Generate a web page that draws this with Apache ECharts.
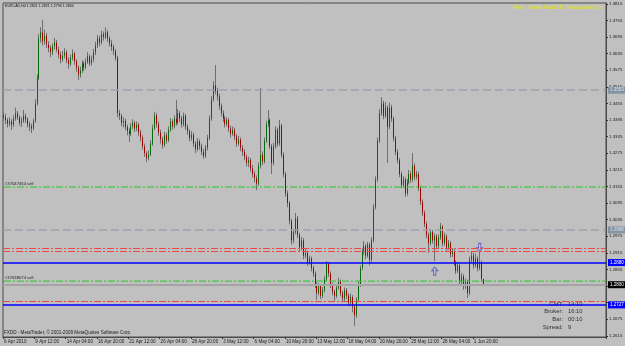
<!DOCTYPE html>
<html><head><meta charset="utf-8">
<script src="https://cdn.jsdelivr.net/npm/echarts@6/dist/echarts.min.js"></script>
<style>html,body{margin:0;padding:0;background:#c0c0c0}#c{width:625px;height:346px}</style>
</head><body><div id="c"></div>
<script>
const headerText = 'EURCAD,H4 1.2821 1.2821 1.2796 1.2800';
const alertText = 'Alerts:  Emails Alerts ON.  Popup Alerts ON.';
const copyrightText = 'FXDD - MetaTrader, \u00a9 2001-2009 MetaQuotes Software Corp.';
const tickLabels = ['6 Apr 2010','9 Apr 12:00','14 Apr 04:00','16 Apr 20:00','21 Apr 12:00','26 Apr 04:00','28 Apr 20:00','3 May 12:00','6 May 04:00','10 May 20:00','13 May 12:00','18 May 04:00','20 May 20:00','25 May 12:00','28 May 04:00','1 Jun 20:00'];
const yTicks = [1.2615,1.2675,1.2735,1.2795,1.2855,1.2915,1.2975,1.3035,1.3095,1.3155,1.3215,1.3275,1.3335,1.3395,1.3455,1.3515,1.3575,1.3635,1.3695,1.3755,1.3815];
// [open, close, low, high]
const candles = [
[1.3412,1.3405,1.3392,1.3425],[1.3405,1.3395,1.3380,1.3418],[1.3395,1.3382,1.3368,1.3402],[1.3382,1.3390,1.3372,1.3405],
[1.3390,1.3378,1.3360,1.3398],[1.3378,1.3400,1.3370,1.3412],[1.3400,1.3420,1.3392,1.3440],[1.3420,1.3405,1.3395,1.3428],
[1.3405,1.3385,1.3375,1.3412],[1.3385,1.3392,1.3370,1.3405],[1.3392,1.3410,1.3385,1.3432],[1.3410,1.3398,1.3385,1.3418],
[1.3398,1.3380,1.3368,1.3405],[1.3380,1.3372,1.3355,1.3390],[1.3372,1.3365,1.3348,1.3382],[1.3365,1.3392,1.3358,1.3400],
[1.3392,1.3455,1.3385,1.3470],[1.3455,1.3545,1.3448,1.3560],[1.3545,1.3690,1.3540,1.3705],[1.3690,1.3712,1.3675,1.3730],
[1.3712,1.3680,1.3665,1.3757],[1.3680,1.3700,1.3668,1.3722],[1.3700,1.3668,1.3655,1.3710],[1.3668,1.3655,1.3640,1.3680],
[1.3655,1.3640,1.3622,1.3665],[1.3640,1.3662,1.3630,1.3672],[1.3662,1.3675,1.3650,1.3692],[1.3675,1.3650,1.3640,1.3685],
[1.3650,1.3632,1.3618,1.3660],[1.3632,1.3615,1.3600,1.3642],[1.3615,1.3628,1.3605,1.3645],[1.3628,1.3640,1.3618,1.3655],
[1.3640,1.3612,1.3600,1.3648],[1.3612,1.3598,1.3580,1.3622],[1.3598,1.3620,1.3590,1.3632],[1.3620,1.3635,1.3610,1.3650],
[1.3635,1.3608,1.3595,1.3642],[1.3608,1.3585,1.3570,1.3615],[1.3585,1.3560,1.3540,1.3592],[1.3560,1.3575,1.3548,1.3588],
[1.3575,1.3600,1.3565,1.3610],[1.3600,1.3585,1.3572,1.3608],[1.3585,1.3605,1.3578,1.3618],[1.3605,1.3625,1.3598,1.3640],
[1.3625,1.3600,1.3590,1.3632],[1.3600,1.3615,1.3592,1.3628],[1.3615,1.3640,1.3605,1.3652],[1.3640,1.3665,1.3630,1.3678],
[1.3665,1.3690,1.3655,1.3702],[1.3690,1.3675,1.3662,1.3700],[1.3675,1.3705,1.3668,1.3718],[1.3705,1.3695,1.3682,1.3715],
[1.3695,1.3712,1.3688,1.3730],[1.3712,1.3690,1.3678,1.3720],[1.3690,1.3672,1.3660,1.3698],[1.3672,1.3660,1.3645,1.3685],
[1.3660,1.3645,1.3630,1.3668],[1.3645,1.3620,1.3610,1.3652],[1.3620,1.3420,1.3405,1.3628],[1.3420,1.3410,1.3395,1.3432],
[1.3410,1.3385,1.3372,1.3418],[1.3385,1.3392,1.3368,1.3405],[1.3392,1.3370,1.3358,1.3400],[1.3370,1.3355,1.3340,1.3378],
[1.3355,1.3345,1.3316,1.3365],[1.3345,1.3372,1.3338,1.3385],[1.3372,1.3385,1.3362,1.3398],[1.3385,1.3365,1.3352,1.3392],
[1.3365,1.3378,1.3355,1.3390],[1.3378,1.3350,1.3338,1.3385],[1.3350,1.3332,1.3318,1.3360],[1.3332,1.3300,1.3288,1.3340],
[1.3300,1.3275,1.3262,1.3310],[1.3275,1.3258,1.3243,1.3282],[1.3258,1.3270,1.3250,1.3285],[1.3270,1.3310,1.3265,1.3322],
[1.3310,1.3365,1.3302,1.3378],[1.3365,1.3412,1.3358,1.3425],[1.3412,1.3380,1.3368,1.3420],[1.3380,1.3350,1.3338,1.3390],
[1.3350,1.3325,1.3310,1.3360],[1.3325,1.3305,1.3292,1.3335],[1.3305,1.3340,1.3298,1.3352],[1.3340,1.3322,1.3310,1.3350],
[1.3322,1.3360,1.3315,1.3372],[1.3360,1.3390,1.3352,1.3402],[1.3390,1.3372,1.3360,1.3398],[1.3372,1.3400,1.3365,1.3412],
[1.3400,1.3385,1.3375,1.3467],[1.3385,1.3420,1.3378,1.3435],[1.3420,1.3400,1.3388,1.3428],[1.3400,1.3380,1.3368,1.3410],
[1.3380,1.3410,1.3372,1.3422],[1.3410,1.3370,1.3360,1.3418],[1.3370,1.3355,1.3342,1.3380],[1.3355,1.3330,1.3318,1.3362],
[1.3330,1.3342,1.3320,1.3355],[1.3342,1.3310,1.3298,1.3350],[1.3310,1.3290,1.3276,1.3318],[1.3290,1.3318,1.3282,1.3330],
[1.3318,1.3300,1.3288,1.3325],[1.3300,1.3280,1.3268,1.3310],[1.3280,1.3265,1.3255,1.3290],[1.3265,1.3295,1.3258,1.3305],
[1.3295,1.3330,1.3285,1.3342],[1.3330,1.3400,1.3322,1.3412],[1.3400,1.3470,1.3392,1.3482],[1.3470,1.3520,1.3462,1.3535],
[1.3520,1.3500,1.3488,1.3594],[1.3500,1.3480,1.3465,1.3512],[1.3480,1.3445,1.3432,1.3490],[1.3445,1.3420,1.3408,1.3455],
[1.3420,1.3400,1.3388,1.3430],[1.3400,1.3380,1.3368,1.3410],[1.3380,1.3395,1.3372,1.3405],[1.3395,1.3365,1.3352,1.3402],
[1.3365,1.3345,1.3332,1.3375],[1.3345,1.3360,1.3338,1.3372],[1.3360,1.3335,1.3322,1.3368],[1.3335,1.3310,1.3298,1.3345],
[1.3310,1.3325,1.3302,1.3338],[1.3325,1.3295,1.3282,1.3332],[1.3295,1.3280,1.3266,1.3305],[1.3280,1.3262,1.3250,1.3290],
[1.3262,1.3240,1.3228,1.3270],[1.3240,1.3250,1.3225,1.3262],[1.3250,1.3220,1.3208,1.3258],[1.3220,1.3200,1.3188,1.3232],
[1.3200,1.3185,1.3170,1.3210],[1.3185,1.3165,1.3142,1.3195],[1.3165,1.3230,1.3158,1.3242],[1.3230,1.3270,1.3220,1.3511],
[1.3270,1.3245,1.3232,1.3282],[1.3245,1.3320,1.3238,1.3332],[1.3320,1.3380,1.3312,1.3392],[1.3380,1.3395,1.3370,1.3431],
[1.3395,1.3300,1.3290,1.3402],[1.3300,1.3240,1.3200,1.3308],[1.3240,1.3300,1.3232,1.3312],[1.3300,1.3360,1.3292,1.3372],
[1.3360,1.3310,1.3298,1.3368],[1.3310,1.3375,1.3302,1.3395],[1.3375,1.3270,1.3260,1.3382],[1.3270,1.3200,1.3188,1.3278],
[1.3200,1.3130,1.3118,1.3208],[1.3130,1.3095,1.3080,1.3140],[1.3095,1.3030,1.3018,1.3102],[1.3030,1.2960,1.2945,1.3038],
[1.2960,1.2990,1.2950,1.3002],[1.2990,1.3040,1.2982,1.3059],[1.3040,1.2980,1.2968,1.3048],[1.2980,1.2935,1.2922,1.2988],
[1.2935,1.2960,1.2925,1.2972],[1.2960,1.2905,1.2892,1.2968],[1.2905,1.2915,1.2895,1.2928],[1.2915,1.2880,1.2868,1.2922],
[1.2880,1.2895,1.2872,1.2905],[1.2895,1.2860,1.2848,1.2902],[1.2860,1.2840,1.2828,1.2868],[1.2840,1.2800,1.2788,1.2848],
[1.2800,1.2770,1.2745,1.2808],[1.2770,1.2795,1.2762,1.2805],[1.2795,1.2760,1.2748,1.2802],[1.2760,1.2780,1.2752,1.2792],
[1.2780,1.2820,1.2772,1.2832],[1.2820,1.2875,1.2812,1.2885],[1.2875,1.2840,1.2828,1.2880],[1.2840,1.2800,1.2788,1.2848],
[1.2800,1.2775,1.2762,1.2808],[1.2775,1.2760,1.2742,1.2782],[1.2760,1.2790,1.2752,1.2802],[1.2790,1.2810,1.2782,1.2825],
[1.2810,1.2770,1.2758,1.2818],[1.2770,1.2750,1.2738,1.2778],[1.2750,1.2780,1.2742,1.2790],[1.2780,1.2760,1.2748,1.2788],
[1.2760,1.2735,1.2722,1.2768],[1.2735,1.2755,1.2728,1.2768],[1.2755,1.2720,1.2700,1.2762],[1.2720,1.2690,1.2651,1.2728],
[1.2690,1.2745,1.2680,1.2755],[1.2745,1.2800,1.2738,1.2812],[1.2800,1.2860,1.2792,1.2870],[1.2860,1.2920,1.2852,1.2932],
[1.2920,1.2940,1.2908,1.2958],[1.2940,1.2905,1.2892,1.2948],[1.2905,1.2945,1.2898,1.2955],[1.2945,1.2890,1.2870,1.2952],
[1.2890,1.2960,1.2882,1.2972],[1.2960,1.3080,1.2952,1.3092],[1.3080,1.3180,1.3072,1.3192],[1.3180,1.3320,1.3172,1.3332],
[1.3320,1.3420,1.3312,1.3435],[1.3420,1.3455,1.3410,1.3478],[1.3455,1.3410,1.3398,1.3465],[1.3410,1.3440,1.3402,1.3460],
[1.3440,1.3370,1.3240,1.3448],[1.3370,1.3440,1.3362,1.3458],[1.3440,1.3400,1.3388,1.3450],[1.3400,1.3330,1.3318,1.3408],
[1.3330,1.3280,1.3268,1.3338],[1.3280,1.3250,1.3238,1.3290],[1.3250,1.3200,1.3188,1.3258],[1.3200,1.3160,1.3148,1.3208],
[1.3160,1.3180,1.3150,1.3192],[1.3180,1.3130,1.3118,1.3188],[1.3130,1.3170,1.3122,1.3182],[1.3170,1.3200,1.3162,1.3215],
[1.3200,1.3180,1.3168,1.3210],[1.3180,1.3230,1.3172,1.3276],[1.3230,1.3190,1.3178,1.3238],[1.3190,1.3200,1.3180,1.3212],
[1.3200,1.3150,1.3138,1.3208],[1.3150,1.3100,1.3088,1.3158],[1.3100,1.3060,1.3048,1.3108],[1.3060,1.3020,1.3008,1.3068],
[1.3020,1.2980,1.2968,1.3028],[1.2980,1.2950,1.2915,1.2988],[1.2950,1.2990,1.2942,1.3002],[1.2990,1.2960,1.2948,1.2998],
[1.2960,1.2975,1.2885,1.2985],[1.2975,1.2940,1.2928,1.2982],[1.2940,1.2970,1.2932,1.2982],[1.2970,1.3010,1.2962,1.3023],
[1.3010,1.2950,1.2938,1.3015],[1.2950,1.2975,1.2942,1.2988],[1.2975,1.2935,1.2922,1.2982],[1.2935,1.2950,1.2925,1.2962],
[1.2950,1.2910,1.2898,1.2958],[1.2910,1.2920,1.2900,1.2932],[1.2920,1.2880,1.2868,1.2928],[1.2880,1.2850,1.2838,1.2888],
[1.2850,1.2870,1.2842,1.2882],[1.2870,1.2810,1.2798,1.2878],[1.2810,1.2830,1.2800,1.2842],[1.2830,1.2795,1.2782,1.2838],
[1.2795,1.2810,1.2785,1.2822],[1.2810,1.2770,1.2752,1.2818],[1.2770,1.2890,1.2762,1.2902],[1.2890,1.2905,1.2878,1.2922],
[1.2905,1.2870,1.2858,1.2915],[1.2870,1.2895,1.2862,1.2912],[1.2895,1.2860,1.2848,1.2902],[1.2860,1.2880,1.2852,1.2918],
[1.2880,1.2821,1.2812,1.2888],[1.2821,1.2800,1.2796,1.2821]
];
const grayLevels = [1.3503, 1.2998];
const redLevels = [1.2932, 1.2921, 1.2740];
const greenLevels = [1.3153, 1.2813];
const greenTexts = ['#37047454 sell', '#37638074 sell'];
const blueLevels = [1.2880, 1.2727];
const bidLevel = 1.2800;
const upArrows = [[220, 1.2849]];
const downArrows = [[243, 1.2935]];
const infoKeys = ['GMT:', 'Broker:', 'Bar:', 'Spread:'];
const infoVals = ['14:10', '16:10', '00:10', '9'];
const totalSlots = 308;

// category dates (H4, trading days only)
const MON = ['Jan','Feb','Mar','Apr','May','Jun','Jul','Aug','Sep','Oct','Nov','Dec'];
const cats = [];
let t = Date.UTC(2010, 3, 6, 20);
while (cats.length < totalSlots) {
  const d = new Date(t);
  const wd = d.getUTCDay();
  if (wd !== 0 && wd !== 6) {
    cats.push(d.getUTCDate() + ' ' + MON[d.getUTCMonth()] + ' ' + String(d.getUTCHours()).padStart(2,'0') + ':00');
  }
  t += 4 * 3600 * 1000;
}
const bodies = candles.map(r => [r[0], r[1], Math.min(r[0], r[1]), Math.max(r[0], r[1])]);

const FONT = 'Liberation Sans';
const dashDot = [7, 2, 2, 2];
const ml = [];
grayLevels.forEach(v => ml.push({yAxis: v, lineStyle: {color: '#99a3ad', width: 1.5, type: [8, 4]},
  label: {show: true, position: 'end', distance: 2, formatter: v.toFixed(4), color: '#dfe4e9', backgroundColor: '#8493a2', padding: [1, 2, 1, 2], fontSize: 4.5, fontFamily: FONT}}));
redLevels.forEach(v => ml.push({yAxis: v, lineStyle: {color: '#f04848', width: 1, type: dashDot}, label: {show: false}}));
ml.push({yAxis: bidLevel, lineStyle: {color: '#a4a4a4', width: 2, type: 'solid'},
  label: {show: true, position: 'end', distance: 2, formatter: bidLevel.toFixed(4), color: '#ffffff', backgroundColor: '#000000', padding: [1, 2, 1, 2], fontSize: 4.5, fontFamily: FONT}});
blueLevels.forEach(v => ml.push({yAxis: v, lineStyle: {color: '#0000ff', width: 1.5, type: 'solid'},
  label: {show: true, position: 'end', distance: 2, formatter: v.toFixed(4), color: '#ffffff', backgroundColor: '#0000ff', padding: [1, 2, 1, 2], fontSize: 4.5, fontFamily: FONT}}));
// order comment texts anchored on the green levels (anchor line transparent)
const mlText = greenLevels.map((v, i) => ({yAxis: v, lineStyle: {color: 'rgba(0,0,0,0)', width: 1},
  label: {show: true, position: 'insideStartTop', distance: [2, 1], formatter: greenTexts[i], color: '#1a1a1a', fontSize: 4.2, fontFamily: FONT}}));

// green order lines drawn as plain line series across the whole axis
const greenSeries = greenLevels.map(v => ({
  type: 'line', data: [[0, v], [totalSlots - 1, v]], symbol: 'none', silent: true, z: 3,
  lineStyle: {color: '#22cc22', width: 1, type: dashDot}, itemStyle: {color: '#22cc22'}
}));

const arrowPath = 'path://M4,0 L8,4 L5.5,4 L5.5,9 L2.5,9 L2.5,4 L0,4 Z';
const chart = echarts.init(document.getElementById('c'), null, {renderer: 'canvas'});
const infoGraphics = [];
infoKeys.forEach((k, i) => {
  infoGraphics.push({type: 'text', x: 563, y: 304 + i * 7.8, style: {text: k, fill: '#333', font: '5.8px "Liberation Sans"', textAlign: 'right', textVerticalAlign: 'middle'}});
  infoGraphics.push({type: 'text', x: 568, y: 304 + i * 7.8, style: {text: infoVals[i], fill: '#333', font: '5.8px "Liberation Sans"', textAlign: 'left', textVerticalAlign: 'middle'}});
});

chart.setOption({
  animation: false,
  backgroundColor: '#c0c0c0',
  grid: {left: 3, right: 19, top: 3, bottom: 9, show: true, borderColor: '#4a4a4a', borderWidth: 1, containLabel: false, outerBoundsMode: 'none'},
  xAxis: {
    type: 'category', data: cats, boundaryGap: true,
    axisLine: {show: true, lineStyle: {color: '#4a4a4a'}},
    axisTick: {show: true, length: 2, interval: (i) => i % 16 === 0 && i / 16 < tickLabels.length, lineStyle: {color: '#333'}},
    axisLabel: {show: true, interval: (i) => i % 16 === 0 && i / 16 < tickLabels.length, formatter: (v, i) => tickLabels[i / 16] || '',
      align: 'left', margin: 2, fontSize: 4.6, color: '#1a1a1a', fontFamily: FONT},
    splitLine: {show: false}
  },
  yAxis: {
    type: 'value', position: 'right', min: 1.2611, max: 1.3818, scale: true,
    axisLine: {show: true, lineStyle: {color: '#4a4a4a'}},
    axisTick: {show: true, length: 2, customValues: yTicks, lineStyle: {color: '#333'}},
    axisLabel: {show: true, customValues: yTicks, formatter: (v) => v.toFixed(4), margin: 3, fontSize: 4.4, color: '#1a1a1a', fontFamily: FONT},
    splitLine: {show: false}
  },
  series: [
    {type: 'candlestick', name: 'wicks', data: candles, barWidth: 1, silent: true,
      itemStyle: {color: '#6e6e6e', color0: '#6e6e6e', borderColor: '#6e6e6e', borderColor0: '#6e6e6e', borderWidth: 1}},
    {type: 'candlestick', name: 'bodies', data: bodies, barWidth: 1, silent: true,
      itemStyle: {color: '#0a6a0a', color0: '#a00000', borderColor: '#0a6a0a', borderColor0: '#a00000', borderWidth: 1}},
    {type: 'scatter', data: upArrows, symbol: arrowPath, symbolSize: [6, 8], silent: true,
      itemStyle: {color: 'rgba(0,0,0,0)', borderColor: '#5050c8', borderWidth: 1},
      markLine: {silent: true, symbol: 'none', precision: 4, animation: false, data: ml}},
    {type: 'scatter', data: downArrows, symbol: arrowPath, symbolSize: [6, 8], symbolRotate: 180, silent: true,
      itemStyle: {color: 'rgba(0,0,0,0)', borderColor: '#5050c8', borderWidth: 1},
      markLine: {silent: true, symbol: 'none', precision: 4, animation: false, data: mlText}}
  ].concat(greenSeries),
  graphic: [
    {type: 'text', x: 5, y: 6, style: {text: headerText, fill: '#111', font: '3.6px "Liberation Sans"', textVerticalAlign: 'middle'}},
    {type: 'text', x: 603, y: 8, style: {text: alertText, fill: '#e8e800', font: '4.6px "Liberation Sans"', textAlign: 'right', textVerticalAlign: 'middle'}},
    {type: 'text', x: 4, y: 333, style: {text: copyrightText, fill: '#1a1a1a', font: '4.6px "Liberation Sans"', textVerticalAlign: 'middle'}}
  ].concat(infoGraphics)
});
</script>
</body></html>
